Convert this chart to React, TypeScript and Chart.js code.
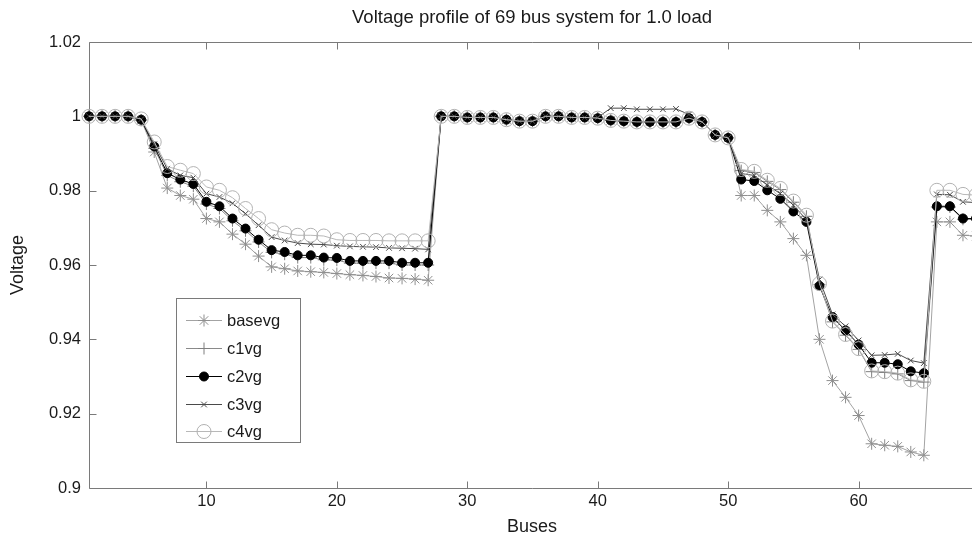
import React, { useEffect, useRef } from 'react';
import { Chart, registerables } from 'chart.js';

Chart.register(...registerables);

const buses = [
  1, 2, 3, 4, 5, 6, 7, 8, 9, 10, 11, 12, 13, 14, 15, 16, 17, 18, 19, 20,
  21, 22, 23, 24, 25, 26, 27, 28, 29, 30, 31, 32, 33, 34, 35, 36, 37, 38, 39, 40,
  41, 42, 43, 44, 45, 46, 47, 48, 49, 50, 51, 52, 53, 54, 55, 56, 57, 58, 59, 60,
  61, 62, 63, 64, 65, 66, 67, 68, 69,
];

const basevg = [
  1.0, 1.0, 1.0, 1.0, 0.999, 0.9904, 0.9807, 0.9787, 0.9777, 0.9725,
  0.9716, 0.9683, 0.9656, 0.9624, 0.9595, 0.959, 0.9584, 0.9582, 0.958, 0.9577,
  0.9574, 0.9572, 0.9569, 0.9565, 0.9564, 0.9562, 0.9559, 1.0, 1.0, 0.9997,
  0.9997, 0.9997, 0.9991, 0.9987, 0.9987, 1.0, 1.0, 0.9997, 0.9997, 0.9995,
  0.9989, 0.9987, 0.9985, 0.9985, 0.9985, 0.9985, 0.9995, 0.9985, 0.995, 0.9942,
  0.9787, 0.9787, 0.9747, 0.9716, 0.9671, 0.9626, 0.94, 0.9289, 0.9244, 0.9195,
  0.9119, 0.9115, 0.9112, 0.9097, 0.9088, 0.9716, 0.9716, 0.968, 0.9678,
];

const c1vg = [
  1.0, 1.0, 1.0, 1.0, 0.999, 0.9914, 0.9841, 0.9824, 0.9812, 0.9764,
  0.9752, 0.9719, 0.9692, 0.9662, 0.9634, 0.9629, 0.962, 0.962, 0.9614, 0.9613,
  0.9605, 0.9605, 0.9605, 0.9605, 0.96, 0.96, 0.96, 1.0, 1.0, 0.9997,
  0.9997, 0.9997, 0.9991, 0.9987, 0.9987, 1.0, 1.0, 0.9997, 0.9997, 0.9995,
  0.9989, 0.9987, 0.9985, 0.9985, 0.9985, 0.9985, 0.9995, 0.9985, 0.995, 0.9942,
  0.9854, 0.9849, 0.9825, 0.9803, 0.9769, 0.9731, 0.9548, 0.9447, 0.9411, 0.9373,
  0.9313, 0.9311, 0.9307, 0.9289, 0.9285, 0.9756, 0.9756, 0.9723, 0.9723,
];

const c2vg = [
  1.0, 1.0, 1.0, 1.0, 0.9991, 0.9919, 0.9847, 0.983, 0.9818, 0.977,
  0.9758, 0.9725, 0.9698, 0.9668, 0.964, 0.9635, 0.9626, 0.9626, 0.962, 0.9619,
  0.9611, 0.9611, 0.9611, 0.9611, 0.9606, 0.9606, 0.9606, 1.0, 1.0, 0.9997,
  0.9997, 0.9997, 0.9991, 0.9987, 0.9987, 1.0, 1.0, 0.9997, 0.9997, 0.9995,
  0.9989, 0.9987, 0.9985, 0.9985, 0.9985, 0.9985, 0.9995, 0.9985, 0.995, 0.9942,
  0.983, 0.9826, 0.9801, 0.9778, 0.9744, 0.9716, 0.9544, 0.946, 0.9424, 0.9386,
  0.9337, 0.9337, 0.9333, 0.9314, 0.9309, 0.9758, 0.9758, 0.9725, 0.9725,
];

const c3vg = [
  1.0, 1.0, 1.0, 1.0, 0.9992, 0.9925, 0.9859, 0.9841, 0.9835, 0.9792,
  0.9783, 0.9766, 0.9738, 0.9707, 0.9675, 0.9666, 0.9659, 0.9656, 0.9655, 0.9652,
  0.965, 0.9649, 0.9648, 0.9646, 0.9645, 0.9644, 0.9642, 1.0, 1.0, 0.9997,
  0.9997, 0.9997, 0.9991, 0.9987, 0.9987, 1.0, 1.0, 0.9997, 0.9997, 0.9997,
  1.0022, 1.0022, 1.0019, 1.0019, 1.0019, 1.002, 1.0005, 0.9985, 0.995, 0.9942,
  0.9846, 0.9841, 0.9815, 0.9792, 0.9761, 0.9722, 0.9561, 0.9467, 0.9435, 0.9397,
  0.9357, 0.9358, 0.9361, 0.9343, 0.9336, 0.979, 0.9789, 0.977, 0.9768,
];

const c4vg = [
  1.0, 1.0, 1.0, 1.0, 0.9993, 0.9931, 0.9865, 0.9855, 0.9846, 0.981,
  0.9801, 0.9781, 0.9752, 0.9725, 0.9695, 0.9686, 0.968, 0.968, 0.9678, 0.9668,
  0.9666, 0.9666, 0.9666, 0.9665, 0.9665, 0.9665, 0.9665, 1.0, 1.0, 0.9997,
  0.9997, 0.9997, 0.9991, 0.9987, 0.9987, 1.0, 1.0, 0.9997, 0.9997, 0.9995,
  0.9989, 0.9987, 0.9985, 0.9985, 0.9985, 0.9985, 0.9995, 0.9985, 0.995, 0.9942,
  0.9857, 0.9852, 0.9828, 0.9806, 0.9772, 0.9734, 0.955, 0.9449, 0.9413, 0.9375,
  0.9315, 0.9313, 0.9309, 0.9291, 0.9287, 0.9801, 0.9801, 0.979, 0.9788,
];

const xTicks = [10, 20, 30, 40, 50, 60];
const yTicks = [0.9, 0.92, 0.94, 0.96, 0.98, 1, 1.02];
const titleText = 'Voltage profile of 69 bus system for 1.0 load';
const xLabel = 'Buses';
const yLabel = 'Voltage';
const seriesNames = ['basevg', 'c1vg', 'c2vg', 'c3vg', 'c4vg'];
const seriesValues = [basevg, c1vg, c2vg, c3vg, c4vg];

const FONT = '"Liberation Sans", Arial, Helvetica, sans-serif';
const CANVAS_W = 1000;
const CANVAS_H = 544;
const AREA_LEFT = 89;
const AREA_TOP = 42;
const AREA_BOTTOM = 488;
const AREA_RIGHT = 976;

type Style = { color: string; fill: string; marker: string; radius: number; lineColor: string };
const styles: Style[] = [
  { color: '#8f8f8f', fill: 'rgba(0,0,0,0)', marker: 'star', radius: 6, lineColor: '#a3a3a3' },
  { color: '#7f7f7f', fill: 'rgba(0,0,0,0)', marker: 'cross', radius: 6, lineColor: '#8a8a8a' },
  { color: '#000000', fill: '#000000', marker: 'circle', radius: 4.5, lineColor: '#000000' },
  { color: '#4a4a4a', fill: 'rgba(0,0,0,0)', marker: 'crossRot', radius: 4, lineColor: '#4a4a4a' },
  { color: '#b2b2b2', fill: 'rgba(0,0,0,0)', marker: 'circle', radius: 7, lineColor: '#b8b8b8' },
];

function drawMarker(ctx: CanvasRenderingContext2D, s: Style, x: number, y: number) {
  ctx.save();
  ctx.strokeStyle = s.color;
  ctx.fillStyle = s.fill;
  ctx.lineWidth = 1;
  const r = s.radius;
  ctx.beginPath();
  if (s.marker === 'circle') {
    ctx.arc(x, y, r, 0, Math.PI * 2);
    ctx.fill();
    ctx.stroke();
  } else {
    if (s.marker === 'cross' || s.marker === 'star') {
      ctx.moveTo(x - r, y);
      ctx.lineTo(x + r, y);
      ctx.moveTo(x, y - r);
      ctx.lineTo(x, y + r);
    }
    if (s.marker === 'crossRot' || s.marker === 'star') {
      const d = r * Math.SQRT1_2;
      ctx.moveTo(x - d, y - d);
      ctx.lineTo(x + d, y + d);
      ctx.moveTo(x - d, y + d);
      ctx.lineTo(x + d, y - d);
    }
    ctx.stroke();
  }
  ctx.restore();
}

const frame = {
  id: 'matlabFrame',
  beforeDatasetsDraw(chart: any) {
    const { ctx, chartArea } = chart;
    const xs = chart.scales.x;
    const ys = chart.scales.y;
    ctx.save();
    ctx.strokeStyle = '#7a7a7a';
    ctx.lineWidth = 1;
    ctx.beginPath();
    const l = Math.round(chartArea.left) + 0.5;
    const t = Math.round(chartArea.top) + 0.5;
    const b = Math.round(chartArea.bottom) + 0.5;
    const r = chartArea.right;
    ctx.moveTo(r, t);
    ctx.lineTo(l, t);
    ctx.lineTo(l, b);
    ctx.lineTo(r, b);
    const tl = 7;
    for (const v of xTicks) {
      const px = Math.round(xs.getPixelForValue(v)) + 0.5;
      ctx.moveTo(px, b);
      ctx.lineTo(px, b - tl);
      ctx.moveTo(px, t);
      ctx.lineTo(px, t + tl);
    }
    for (const v of yTicks) {
      const py = Math.round(ys.getPixelForValue(v)) + 0.5;
      ctx.moveTo(l, py);
      ctx.lineTo(l + tl, py);
    }
    ctx.stroke();

    ctx.fillStyle = '#1a1a1a';
    ctx.textAlign = 'center';
    ctx.textBaseline = 'middle';
    ctx.font = `18.5px ${FONT}`;
    ctx.fillText(titleText, 532, 18);
    ctx.font = `18px ${FONT}`;
    ctx.fillText(xLabel, 532, 527);
    ctx.save();
    ctx.translate(18, (chartArea.top + chartArea.bottom) / 2);
    ctx.rotate(-Math.PI / 2);
    ctx.fillText(yLabel, 0, 0);
    ctx.restore();
    ctx.restore();
  },
  afterDraw(chart: any) {
    const { ctx } = chart;
    ctx.save();
    const bx = 176.5, by = 298.5, bw = 124, bh = 144;
    ctx.fillStyle = '#ffffff';
    ctx.fillRect(bx, by, bw, bh);
    ctx.strokeStyle = '#7a7a7a';
    ctx.lineWidth = 1;
    ctx.strokeRect(bx, by, bw, bh);
    const rowY = [320, 348, 376, 404, 431];
    ctx.font = `16.5px ${FONT}`;
    ctx.textAlign = 'left';
    ctx.textBaseline = 'middle';
    seriesNames.forEach((name, i) => {
      const s = styles[i];
      const y = rowY[i] + 0.5;
      ctx.strokeStyle = s.lineColor;
      ctx.beginPath();
      ctx.moveTo(186, y);
      ctx.lineTo(222, y);
      ctx.stroke();
      drawMarker(ctx, s, 204, y);
      ctx.fillStyle = '#1a1a1a';
      ctx.fillText(name, 227, rowY[i] + 1);
    });
    ctx.restore();
  },
};

export default function App() {
  const ref = useRef<HTMLCanvasElement | null>(null);

  useEffect(() => {
    const canvas = ref.current;
    if (!canvas) return;
    const order = [5, 4, 3, 2, 1];
    const datasets = seriesValues.map((vals, i) => ({
      label: seriesNames[i],
      data: buses.map((b, k) => ({ x: b, y: vals[k] })),
      borderColor: styles[i].lineColor,
      borderWidth: 1,
      backgroundColor: styles[i].fill,
      pointBorderColor: styles[i].color,
      pointBackgroundColor: styles[i].fill,
      pointStyle: styles[i].marker,
      pointRadius: styles[i].radius,
      pointBorderWidth: 1,
      pointHoverRadius: styles[i].radius,
      fill: false,
      tension: 0,
      clip: false as any,
      order: order[i],
    }));

    const chart = new Chart(canvas, {
      type: 'line',
      data: { datasets },
      plugins: [frame],
      options: {
        animation: false,
        responsive: false,
        devicePixelRatio: 1,
        events: [],
        layout: { padding: { top: AREA_TOP, right: CANVAS_W - AREA_RIGHT, left: 0, bottom: 0 } },
        plugins: {
          legend: { display: false },
          title: { display: false },
          tooltip: { enabled: false },
        },
        scales: {
          x: {
            type: 'linear',
            min: 1,
            max: 69,
            grid: { display: false, drawTicks: false },
            border: { display: false },
            afterFit: (s: any) => { s.height = CANVAS_H - AREA_BOTTOM; },
            afterBuildTicks: (s: any) => { s.ticks = xTicks.map((v) => ({ value: v })); },
            ticks: {
              color: '#1a1a1a',
              font: { family: FONT, size: 16.5 },
              padding: 4,
              maxRotation: 0,
              autoSkip: false,
              callback: (v: any) => String(v),
            },
          },
          y: {
            type: 'linear',
            min: 0.9,
            max: 1.02,
            grid: { display: false, drawTicks: false },
            border: { display: false },
            afterFit: (s: any) => { s.width = AREA_LEFT; },
            afterBuildTicks: (s: any) => { s.ticks = yTicks.map((v) => ({ value: v })); },
            ticks: {
              color: '#1a1a1a',
              font: { family: FONT, size: 16.5 },
              padding: 8,
              autoSkip: false,
              callback: (v: any) => String(Number(Number(v).toFixed(2))),
            },
          },
        },
      },
    });
    return () => chart.destroy();
  }, []);

  return (
    <div
      style={{
        position: 'fixed',
        left: 0,
        top: 0,
        width: 972,
        height: 544,
        overflow: 'hidden',
        background: '#ffffff',
      }}
    >
      <canvas ref={ref} width={CANVAS_W} height={CANVAS_H} style={{ display: 'block', width: CANVAS_W, height: CANVAS_H }} />
    </div>
  );
}
